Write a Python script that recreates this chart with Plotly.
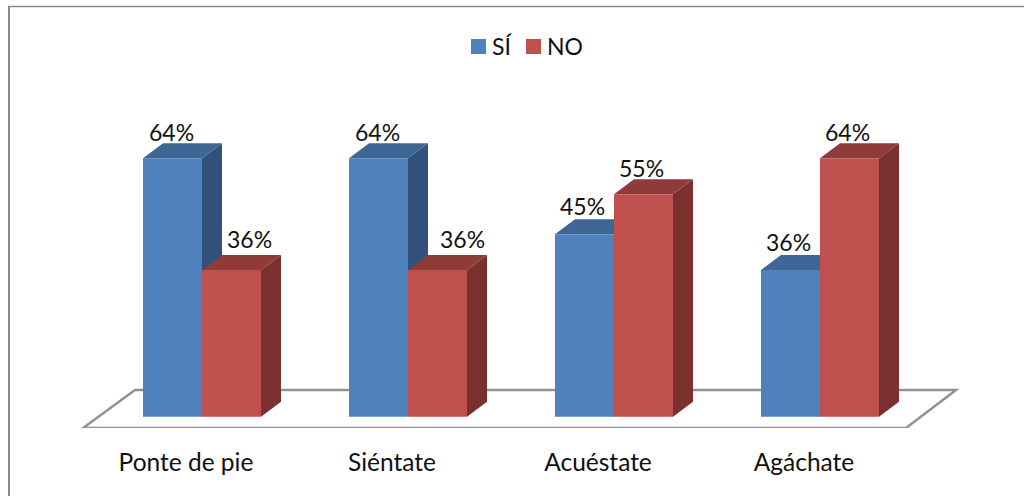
import plotly.graph_objects as go

# Survey results per instruction
categories = ["Ponte de pie", "Siéntate", "Acuéstate", "Agáchate"]
si_values = [64, 64, 45, 36]
no_values = [36, 36, 55, 64]
series_names = ["SÍ", "NO"]

# Value labels: nudges in pixels around the default spot above each bar
si_label_nudge = [(-1, 0), (-1, 0), (-2, 2), (-2, 2)]
no_label_nudge = [(18, 5), (25, 5), (-2, 0), (-2, 0)]

BLUE, BLUE_TOP, BLUE_SIDE = "#4F81BD", "#3F6694", "#31507A"
RED, RED_TOP, RED_SIDE = "#C0504D", "#8F3B39", "#7A302F"
FLOOR = "#929292"
INK = "#111111"
FONT = "Lato, Carlito, Calibri, sans-serif"

# Pixel scale of the axes on a 1024x496 page
PAGE_W, PAGE_H = 1024, 496
PX_PER_CAT = 206.0
PX_PER_VAL = 3.99
ORIGIN_X, ORIGIN_Y = 202.0, 415.2
FLOOR_FRONT_Y = 428.0
BAR_PX = 59.0
EDGE_PX = 3.0
DEPTH_X, DEPTH_Y = 20.0, 15.0


def ux(px):
    return px / PX_PER_CAT


def uy(px):
    return px / PX_PER_VAL


def xval(px):
    return (px - ORIGIN_X) / PX_PER_CAT


def yval(px):
    return (ORIGIN_Y - px) / PX_PER_VAL


def paper_x(px):
    return px / PAGE_W


def paper_y(px):
    return (FLOOR_FRONT_Y - px) / FLOOR_FRONT_Y


def poly(points, color):
    path = "M" + " L".join(f"{x},{y}" for x, y in points) + " Z"
    return dict(type="path", path=path, xref="x", yref="y", layer="below",
                fillcolor=color, line=dict(width=0))


def extrusion(left, height, top_color, side_color):
    """Top and right faces of a bar whose front face starts at `left`."""
    right = left + ux(BAR_PX)
    top = height + uy(EDGE_PX / 2)
    base = -uy(EDGE_PX / 2)
    dx, dy = ux(DEPTH_X), uy(DEPTH_Y)
    return [
        poly([(right, base), (right + dx, base + dy), (right + dx, top + dy), (right, top)], side_color),
        poly([(left, top), (left + dx, top + dy), (right + dx, top + dy), (right, top)], top_color),
    ]


shapes = [
    # Outer frame: left and top edges only
    dict(type="line", xref="paper", yref="paper", layer="below",
         x0=paper_x(9), x1=paper_x(9), y0=paper_y(PAGE_H), y1=paper_y(6),
         line=dict(color="#8A8A8A", width=2)),
    dict(type="line", xref="paper", yref="paper", layer="below",
         x0=paper_x(8), x1=1, y0=paper_y(6.5), y1=paper_y(6.5),
         line=dict(color="#8A8A8A", width=1.5)),
    # Floor of the chart
    dict(type="path", xref="x", yref="y", layer="below",
         path=f"M{xval(83)},{yval(428)} L{xval(135)},{yval(390)} "
              f"L{xval(956)},{yval(390)} L{xval(906)},{yval(428)} Z",
         fillcolor="rgba(0,0,0,0)", line=dict(color=FLOOR, width=2.5)),
]

# Painted left to right so each bar hides the faces of its neighbour
for i in range(len(categories)):
    shapes += extrusion(i - ux(BAR_PX), si_values[i], BLUE_TOP, BLUE_SIDE)
    shapes += extrusion(i, no_values[i], RED_TOP, RED_SIDE)

positions = list(range(len(categories)))
edge = ux(EDGE_PX)
bar_width = ux(BAR_PX) - edge

fig = go.Figure()
fig.add_bar(name=series_names[0], x=positions, y=si_values, width=bar_width,
            offset=-ux(BAR_PX) + edge / 2,
            marker=dict(color=BLUE, line=dict(color=BLUE, width=EDGE_PX)))
fig.add_bar(name=series_names[1], x=positions, y=no_values, width=bar_width,
            offset=edge / 2,
            marker=dict(color=RED, line=dict(color=RED, width=EDGE_PX)))

annotations = []
for i in positions:
    for values, nudge, centre in (
        (si_values, si_label_nudge, i - ux(BAR_PX) / 2),
        (no_values, no_label_nudge, i + ux(BAR_PX) / 2),
    ):
        annotations.append(dict(
            x=centre, y=values[i], xref="x", yref="y",
            text=f"{values[i]}%", showarrow=False,
            xshift=nudge[i][0], yshift=28 + nudge[i][1],
            font=dict(family=FONT, size=23, color=INK),
        ))

# Legend key: tight swatch-to-text spacing, centred over the chart
for name, color, swatch_left, text_left in zip(series_names, (BLUE, RED), (471, 526), (492, 547)):
    shapes.append(dict(type="rect", xref="paper", yref="paper", layer="below",
                       x0=paper_x(swatch_left), x1=paper_x(swatch_left + 15),
                       y0=paper_y(54), y1=paper_y(39),
                       fillcolor=color, line=dict(width=0)))
    annotations.append(dict(x=paper_x(text_left), y=paper_y(45.5), xref="paper", yref="paper",
                            xanchor="left", yanchor="middle", xshift=-2,
                            text=name, showarrow=False,
                            font=dict(family=FONT, size=23, color=INK)))

fig.update_layout(
    width=PAGE_W, height=PAGE_H, autosize=False,
    margin=dict(l=0, r=0, t=0, b=PAGE_H - FLOOR_FRONT_Y, pad=0),
    plot_bgcolor="white", paper_bgcolor="white",
    barmode="overlay", showlegend=False,
    shapes=shapes, annotations=annotations,
    xaxis=dict(range=[xval(0), xval(PAGE_W)], tickvals=positions, ticktext=categories,
               showgrid=False, zeroline=False, showline=False, ticks="",
               ticklabelstandoff=17, ticklabelshift=-16,
               tickfont=dict(family=FONT, size=24.5, color=INK)),
    yaxis=dict(range=[yval(FLOOR_FRONT_Y), yval(0)], visible=False, showgrid=False, zeroline=False),
)

fig.write_html("out.html", config=dict(displayModeBar=False))
